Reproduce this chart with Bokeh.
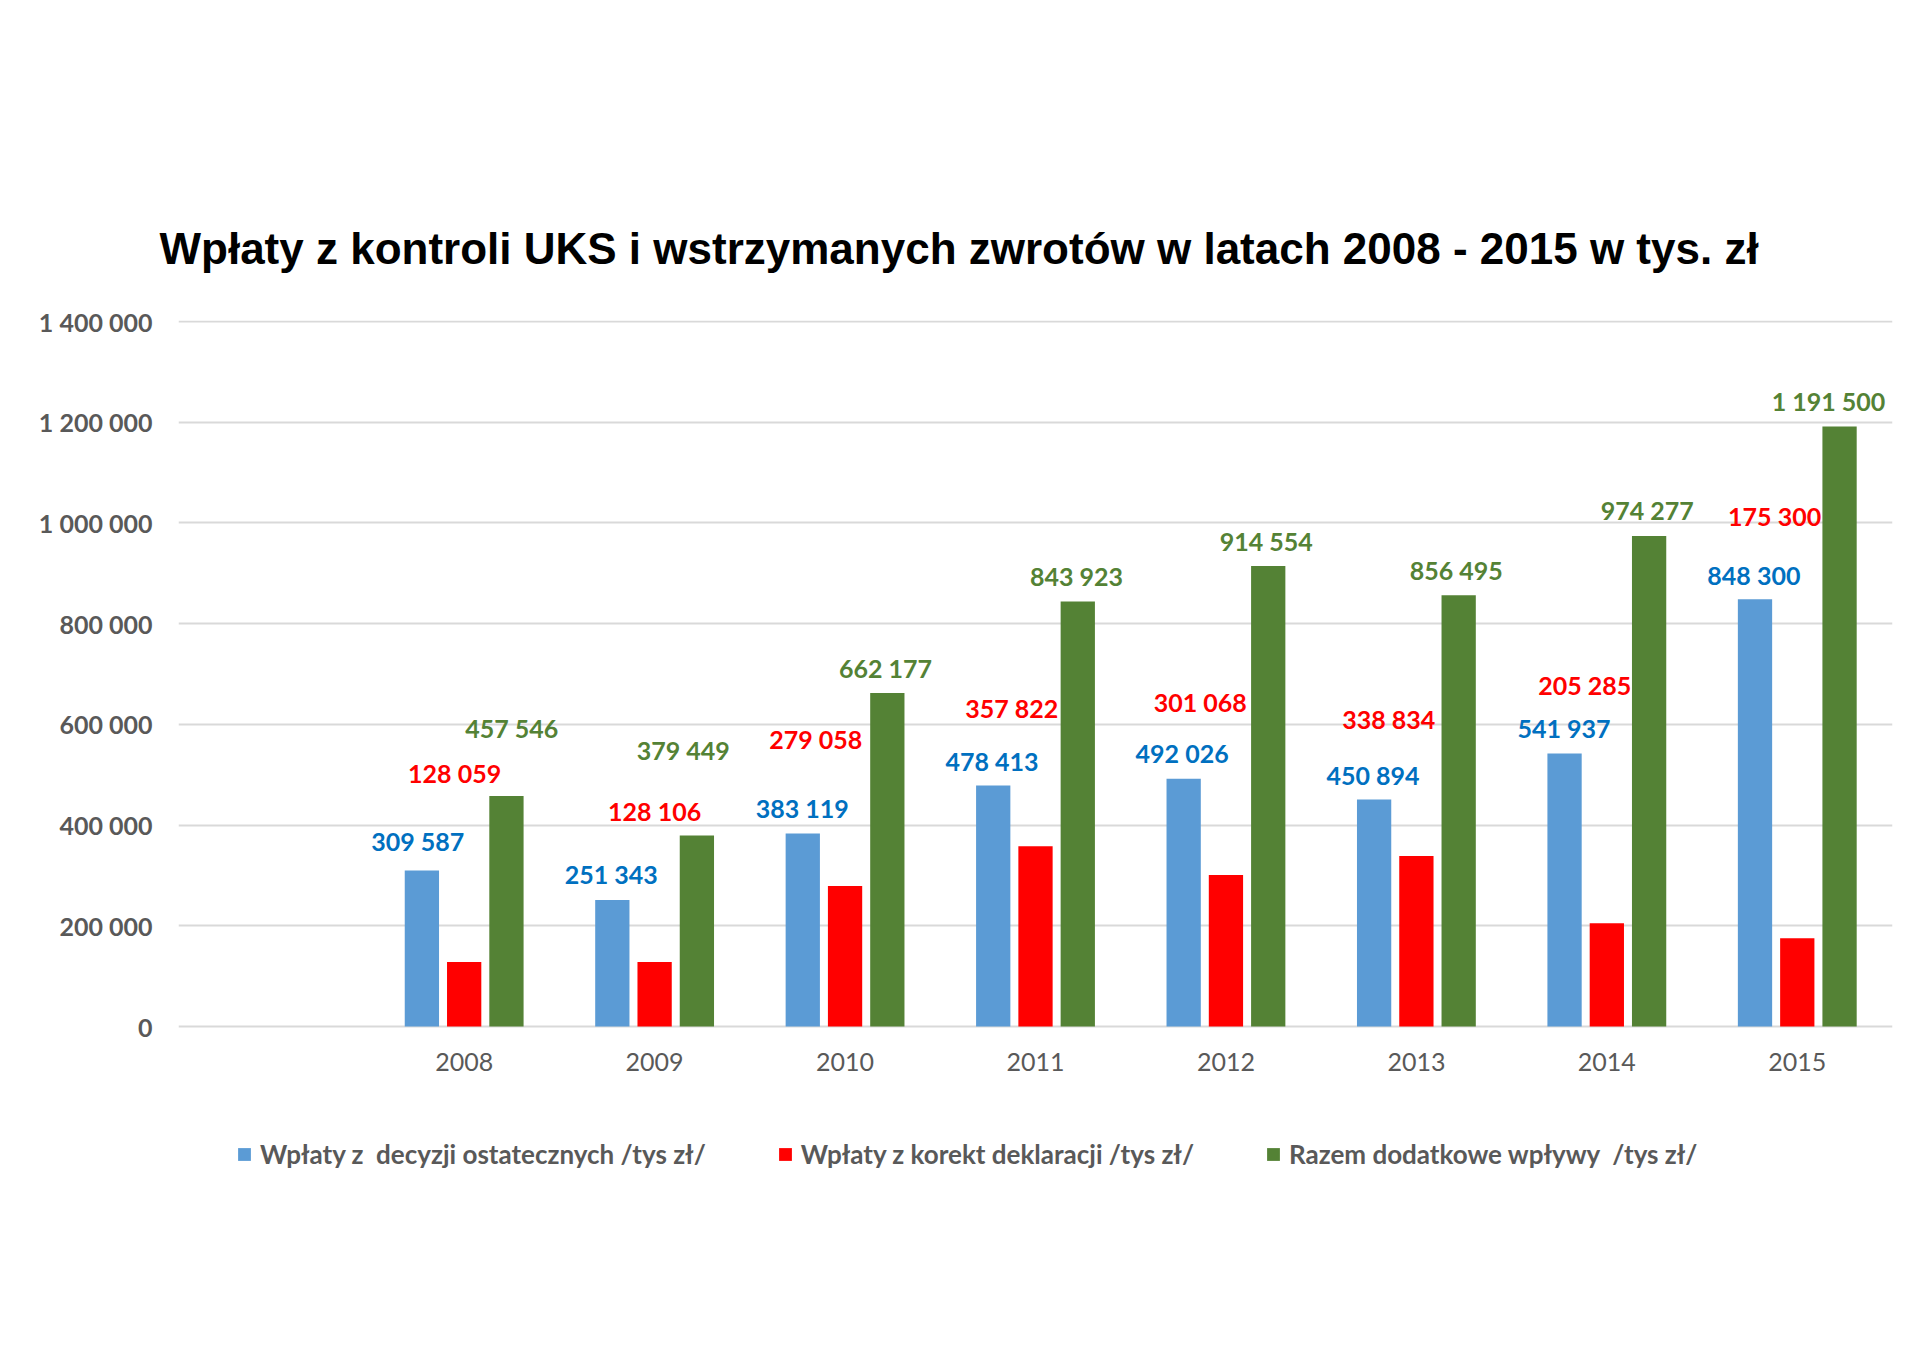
from bokeh.plotting import figure
from bokeh.models import Range1d, FixedTicker, Legend, LegendItem, ColumnDataSource
from bokeh.core.properties import value
from bokeh.embed import file_html
from bokeh.resources import INLINE

# ---- data ----
years = ["2008", "2009", "2010", "2011", "2012", "2013", "2014", "2015"]
decyzje = [309587, 251343, 383119, 478413, 492026, 450894, 541937, 848300]
korekty = [128059, 128106, 279058, 357822, 301068, 338834, 205285, 175300]
razem = [457546, 379449, 662177, 843923, 914554, 856495, 974277, 1191500]
series_names = [
    "Wpłaty z  decyzji ostatecznych /tys zł/",
    "Wpłaty z korekt deklaracji /tys zł/",
    "Razem dodatkowe wpływy  /tys zł/",
]
title_text = "Wpłaty z kontroli UKS i wstrzymanych zwrotów w latach 2008 - 2015 w tys. zł"
y_ticks = [0, 200000, 400000, 600000, 800000, 1000000, 1200000, 1400000]
y_tick_labels = ["0", "200 000", "400 000", "600 000", "800 000", "1 000 000", "1 200 000", "1 400 000"]

# data-label placement as in the original (hand-placed labels)
lab_y_dec = [368000, 302000, 433000, 528000, 543000, 499000, 592000, 896000]
lab_y_kor = [504000, 428000, 570000, 633000, 645000, 611000, 679000, 1013000]
lab_y_raz = [592000, 550000, 711000, 894000, 964000, 906000, 1025000, 1242000]
lab_dx_dec = [-0.244, -0.228, -0.225, -0.228, -0.23, -0.228, -0.225, -0.228]
lab_dx_kor = [-0.05, 0.0, -0.154, -0.125, -0.135, -0.145, -0.116, -0.119]
lab_dx_raz = [0.25, 0.15, 0.212, 0.215, 0.212, 0.209, 0.212, 0.164]

BAR_COLORS = ["#5B9BD5", "#FF0000", "#548235"]
LABEL_COLORS = ["#0070C0", "#FF0000", "#548235"]
GRAY = "#595959"
FONT = "Lato"

def fmt(v):
    return f"{v:,}".replace(",", " ")

n_slots = len(years) + 1  # leading empty category slot
centers = [i + 1.5 for i in range(len(years))]

# frame extends below the zero line so that the legend sits inside it
p = figure(width=1904, height=1340, output_backend="svg", toolbar_location=None,
           x_range=Range1d(0, n_slots), y_range=Range1d(-345500, 1402000),
           min_border_left=178, min_border_right=12, min_border_top=320, min_border_bottom=140)
p.outline_line_color = None
p.background_fill_color = "white"
p.border_fill_color = "white"

p.title.text = title_text
p.title.align = "left"
p.title.offset = -19
p.title.standoff = 95
p.title.text_font = "Liberation Sans"
p.title.text_font_style = "bold"
p.title.text_font_size = "44px"
p.title.text_color = "black"

p.xgrid.visible = False
p.ygrid.ticker = FixedTicker(ticks=y_ticks)
p.ygrid.grid_line_color = "#D9D9D9"
p.ygrid.grid_line_width = 2

p.yaxis.ticker = FixedTicker(ticks=y_ticks)
p.yaxis.major_label_overrides = {t: l for t, l in zip(y_ticks, y_tick_labels)}
p.yaxis.axis_line_color = None
p.yaxis.major_tick_line_color = None
p.yaxis.minor_tick_line_color = None
p.yaxis.major_label_standoff = 20
p.yaxis.major_label_text_font = FONT
p.yaxis.major_label_text_font_style = "bold"
p.yaxis.major_label_text_font_size = "25px"
p.yaxis.major_label_text_color = GRAY

p.xaxis.ticker = FixedTicker(ticks=centers)
p.xaxis.fixed_location = 0
p.xaxis.major_label_overrides = {c: y for c, y in zip(centers, years)}
p.xaxis.axis_line_color = None
p.xaxis.major_tick_line_color = None
p.xaxis.minor_tick_line_color = None
p.xaxis.major_label_standoff = 20
p.xaxis.major_label_text_font = FONT
p.xaxis.major_label_text_font_size = "25px"
p.xaxis.major_label_text_color = GRAY

bar_w = 0.18
offsets = [-0.222, 0.0, 0.222]
series = [decyzje, korekty, razem]
lab_y = [lab_y_dec, lab_y_kor, lab_y_raz]
lab_dx = [lab_dx_dec, lab_dx_kor, lab_dx_raz]

renderers = []
for k, vals in enumerate(series):
    src = ColumnDataSource(dict(x=[c + offsets[k] for c in centers], top=vals))
    r = p.vbar(x="x", top="top", width=bar_w, bottom=0, source=src,
               fill_color=BAR_COLORS[k], line_color=None)
    renderers.append(r)
    lsrc = ColumnDataSource(dict(x=[c + d for c, d in zip(centers, lab_dx[k])],
                                 y=lab_y[k], t=[fmt(v) for v in vals]))
    p.text(x="x", y="y", text="t", source=lsrc, text_font=value(FONT),
           text_font_style="bold", text_font_size="25px", text_color=LABEL_COLORS[k],
           text_align="center", text_baseline="middle")

leg = Legend(items=[LegendItem(label=series_names[k], renderers=[r]) for k, r in enumerate(renderers)],
             location=(58, 30), orientation="horizontal",
             padding=0, margin=0, spacing=71, glyph_width=16, glyph_height=16,
             label_height=16, label_standoff=8, label_text_font=FONT,
             label_text_font_style="bold", label_text_font_size="26px",
             label_text_color=GRAY, label_text_baseline="middle",
             border_line_color=None, background_fill_alpha=0)
p.add_layout(leg)

open("out.html", "w").write(file_html(p, INLINE))
